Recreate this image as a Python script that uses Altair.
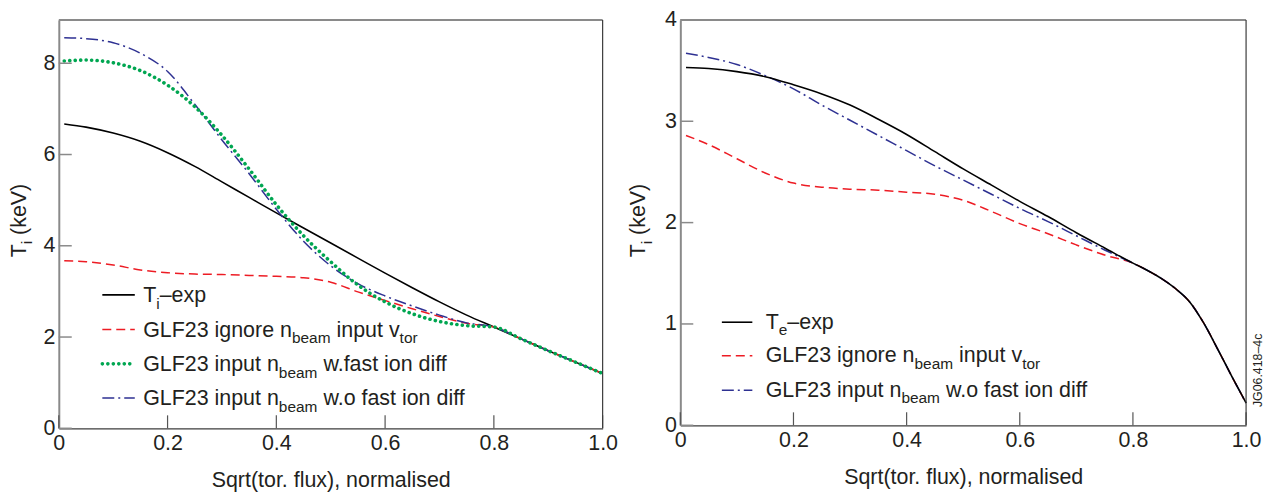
import altair as alt
import pandas as pd

# ---------------- data ----------------
rho = [0.01, 0.05, 0.10, 0.15, 0.20, 0.25, 0.30, 0.35, 0.40, 0.45, 0.50,
       0.55, 0.60, 0.65, 0.70, 0.75, 0.80, 0.85, 0.90, 0.95, 1.00]
ti_exp = [6.67, 6.60, 6.47, 6.29, 6.04, 5.74, 5.40, 5.06, 4.72, 4.39, 4.06,
          3.73, 3.40, 3.08, 2.77, 2.48, 2.22, 1.96, 1.70, 1.45, 1.20]
ti_ignore = [3.67, 3.65, 3.58, 3.47, 3.41, 3.38, 3.37, 3.35, 3.33, 3.30, 3.20,
             2.99, 2.80, 2.62, 2.45, 2.30, 2.22, 1.96, 1.70, 1.45, 1.20]
ti_wfast = [8.05, 8.07, 8.01, 7.84, 7.52, 7.05, 6.42, 5.68, 4.90, 4.22, 3.65,
            3.14, 2.77, 2.51, 2.34, 2.25, 2.22, 1.96, 1.70, 1.45, 1.20]
ti_wofast = [8.56, 8.54, 8.45, 8.22, 7.82, 7.10, 6.32, 5.58, 4.80, 4.10, 3.56,
             3.17, 2.90, 2.68, 2.48, 2.31, 2.22, 1.96, 1.70, 1.45, 1.20]

rho_r = [0.01, 0.05, 0.10, 0.15, 0.20, 0.25, 0.30, 0.35, 0.40, 0.45, 0.50,
         0.55, 0.60, 0.65, 0.70, 0.75, 0.80, 0.825, 0.85, 0.875, 0.90,
         0.925, 0.95, 0.975, 1.00]
te_exp = [3.53, 3.52, 3.49, 3.44, 3.36, 3.27, 3.16, 3.02, 2.87, 2.70, 2.53,
          2.37, 2.21, 2.06, 1.90, 1.75, 1.60, 1.53, 1.45, 1.35, 1.22,
          1.01, 0.75, 0.48, 0.22]
te_ignore = [2.86, 2.77, 2.63, 2.49, 2.39, 2.35, 2.33, 2.32, 2.30, 2.28, 2.22,
             2.11, 1.99, 1.89, 1.78, 1.68, 1.60, 1.53, 1.45, 1.35, 1.22,
             1.01, 0.75, 0.48, 0.22]
te_wofast = [3.67, 3.63, 3.56, 3.45, 3.32, 3.16, 3.01, 2.86, 2.71, 2.56, 2.42,
             2.28, 2.14, 2.01, 1.87, 1.73, 1.60, 1.53, 1.45, 1.35, 1.22,
             1.01, 0.75, 0.48, 0.22]

x_ticks = [0, 0.2, 0.4, 0.6, 0.8, 1.0]
y_ticks_left = [0, 2, 4, 6, 8]
y_ticks_right = [0, 1, 2, 3, 4]
y_max_left = 8.95
y_max_right = 4

x_title = "Sqrt(tor. flux), normalised"
y_title = [("T", False), ("i", True), (" (keV)", False)]
leg_left = [
    [("T", False), ("i", True), ("–exp", False)],
    [("GLF23 ignore n", False), ("beam", True), (" input v", False), ("tor", True)],
    [("GLF23 input n", False), ("beam", True), (" w.fast ion diff", False)],
    [("GLF23 input n", False), ("beam", True), (" w.o fast ion diff", False)],
]
leg_right = [
    [("T", False), ("e", True), ("–exp", False)],
    [("GLF23 ignore n", False), ("beam", True), (" input v", False), ("tor", True)],
    [("GLF23 input n", False), ("beam", True), (" w.o fast ion diff", False)],
]
stamp = "JG06.418–4c"

# ---------------- styles / layout ----------------
FONT = "Liberation Sans"
TXT = "#231f20"
FS_MAIN = 21.5
FS_SUB = 15.5
SUB_SHIFT = 6.5
STY = {
    "exp": dict(color="#000000", strokeWidth=1.6),
    "ignore": dict(color="#ed1c24", strokeWidth=1.5, strokeDash=[9, 5]),
    "wfast": dict(color="#00a651", strokeWidth=3.6, strokeDash=[0.1, 5.4], strokeCap="round"),
    "wofast": dict(color="#2e3192", strokeWidth=1.5, strokeDash=[12, 4, 2, 4]),
}
W1, H1 = 546, 410
W2, H2 = 568, 407

AFM = {' ': 278, '(': 333, ')': 333, '–': 556, '-': 333, '.': 278, '0': 556, '1': 556,
       '2': 556, '3': 556, '4': 556, '6': 556, '8': 556, 'F': 611, 'G': 778, 'J': 500,
       'L': 556, 'T': 611, 'V': 667, 'a': 556, 'b': 556, 'c': 500, 'd': 556, 'e': 556,
       'f': 278, 'g': 556, 'i': 222, 'k': 500, 'm': 833, 'n': 556, 'o': 556, 'p': 556,
       'r': 333, 's': 500, 't': 278, 'u': 556, 'v': 500, 'w': 722, 'x': 500}


def tw(s, fs):
    return sum(AFM.get(c, 556) for c in s) / 1000.0 * fs


ONE = pd.DataFrame({"k": [0]})


def text_layer(txt, x, y, fs, angle=0):
    lead = len(txt) - len(txt.lstrip(' '))
    adv = tw(' ' * lead, fs)
    if angle == 270:
        y = y - adv
    else:
        x = x + adv
    return alt.Chart(ONE).mark_text(
        text=txt.strip(), font=FONT, fontSize=fs, color=TXT, align="left",
        baseline="alphabetic", angle=angle
    ).encode(x=alt.value(x), y=alt.value(y))


def rich_text(pieces, x, y, angle=0):
    out = []
    for txt, sub in pieces:
        fs = FS_SUB if sub else FS_MAIN
        if angle == 270:
            out.append(text_layer(txt, x + (SUB_SHIFT if sub else 0), y, fs, 270))
            y -= tw(txt, fs)
        else:
            out.append(text_layer(txt, x, y + (SUB_SHIFT if sub else 0), fs))
            x += tw(txt, fs)
    return out


def panel(xv, series, ymax, yticks, W, H, legend, keys, lx, tx, bases, ldy, ytx, yty):
    xs = alt.Scale(domain=[0, 1], nice=False, zero=False)
    ys = alt.Scale(domain=[0, ymax], nice=False, zero=False)
    xaxis = alt.Axis(values=x_ticks, ticks=False, grid=False, domainColor="#3c3c3c",
                     domainWidth=1.3,
                     labelExpr="datum.value == 0 ? '0' : format(datum.value, '.1f')",
                     labelFont=FONT, labelFontSize=FS_MAIN, labelColor=TXT, labelPadding=4,
                     labelFlush=False, labelOverlap=False,
                     title=x_title, titleFont=FONT, titleFontSize=FS_MAIN,
                     titleFontWeight="normal", titleColor=TXT, titlePadding=16)
    yaxis = alt.Axis(values=yticks, ticks=False, grid=False, domainColor="#8a8a8a",
                     domainWidth=2, labelFont=FONT, labelFontSize=FS_MAIN, labelColor=TXT,
                     labelPadding=4, labelFlush=False, labelOverlap=False, title=None)
    layers = []
    for key, vals in series:
        df = pd.DataFrame({"x": xv, "y": vals})
        layers.append(alt.Chart(df).mark_line(interpolate="monotone", **STY[key]).encode(
            x=alt.X("x:Q", scale=xs, axis=xaxis), y=alt.Y("y:Q", scale=ys, axis=yaxis)))
    # inward ticks
    layers.append(alt.Chart(pd.DataFrame({"t": x_ticks})).mark_rule(
        color="#555555", strokeWidth=1.2).encode(
        x=alt.X("t:Q", scale=xs, axis=xaxis), y=alt.value(H), y2=alt.value(H - 13)))
    layers.append(alt.Chart(pd.DataFrame({"t": yticks})).mark_rule(
        color="#8a8a8a", strokeWidth=1.5).encode(
        y=alt.Y("t:Q", scale=ys, axis=yaxis), x=alt.value(0), x2=alt.value(13)))
    # frame top / right
    layers.append(alt.Chart(ONE).mark_rule(color="#8a8a8a", strokeWidth=2).encode(
        x=alt.value(0), x2=alt.value(W), y=alt.value(0)))
    layers.append(alt.Chart(ONE).mark_rule(color="#3c3c3c", strokeWidth=1.2).encode(
        x=alt.value(W), y=alt.value(0), y2=alt.value(H)))
    # legend
    for entry, key, base in zip(legend, keys, bases):
        layers.append(alt.Chart(ONE).mark_rule(**STY[key]).encode(
            x=alt.value(lx[0]), x2=alt.value(lx[1]), y=alt.value(base + ldy)))
        layers += rich_text(entry, tx, base)
    # y title
    layers += rich_text(y_title, ytx, yty, angle=270)
    return alt.layer(*layers).properties(width=W, height=H)


left = panel(rho, [("exp", ti_exp), ("ignore", ti_ignore), ("wofast", ti_wofast),
                   ("wfast", ti_wfast)],
             y_max_left, y_ticks_left, W1, H1, leg_left,
             ["exp", "ignore", "wfast", "wofast"], (43.7, 76.3), 84.7,
             [283.4, 318.2, 352.6, 386.8], -7.3, -33, 238.4)

right = panel(rho_r, [("ignore", te_ignore), ("wofast", te_wofast), ("exp", te_exp)],
              y_max_right, y_ticks_right, W2, H2, leg_right,
              ["exp", "ignore", "wofast"], (41.7, 72.3), 85.7,
              [310.0, 343.6, 378.2], -6.5, -35.4, 238.4)
right = alt.layer(right, text_layer(stamp, 584, 388.7, 12.4, 270))

chart = alt.hconcat(left, right, spacing=78, bounds="flush").properties(
    padding={"left": 0, "top": 0, "right": 0, "bottom": 0}
).configure_view(stroke=None)

chart.save("out.html", embed_options={"renderer": "svg", "actions": False})
